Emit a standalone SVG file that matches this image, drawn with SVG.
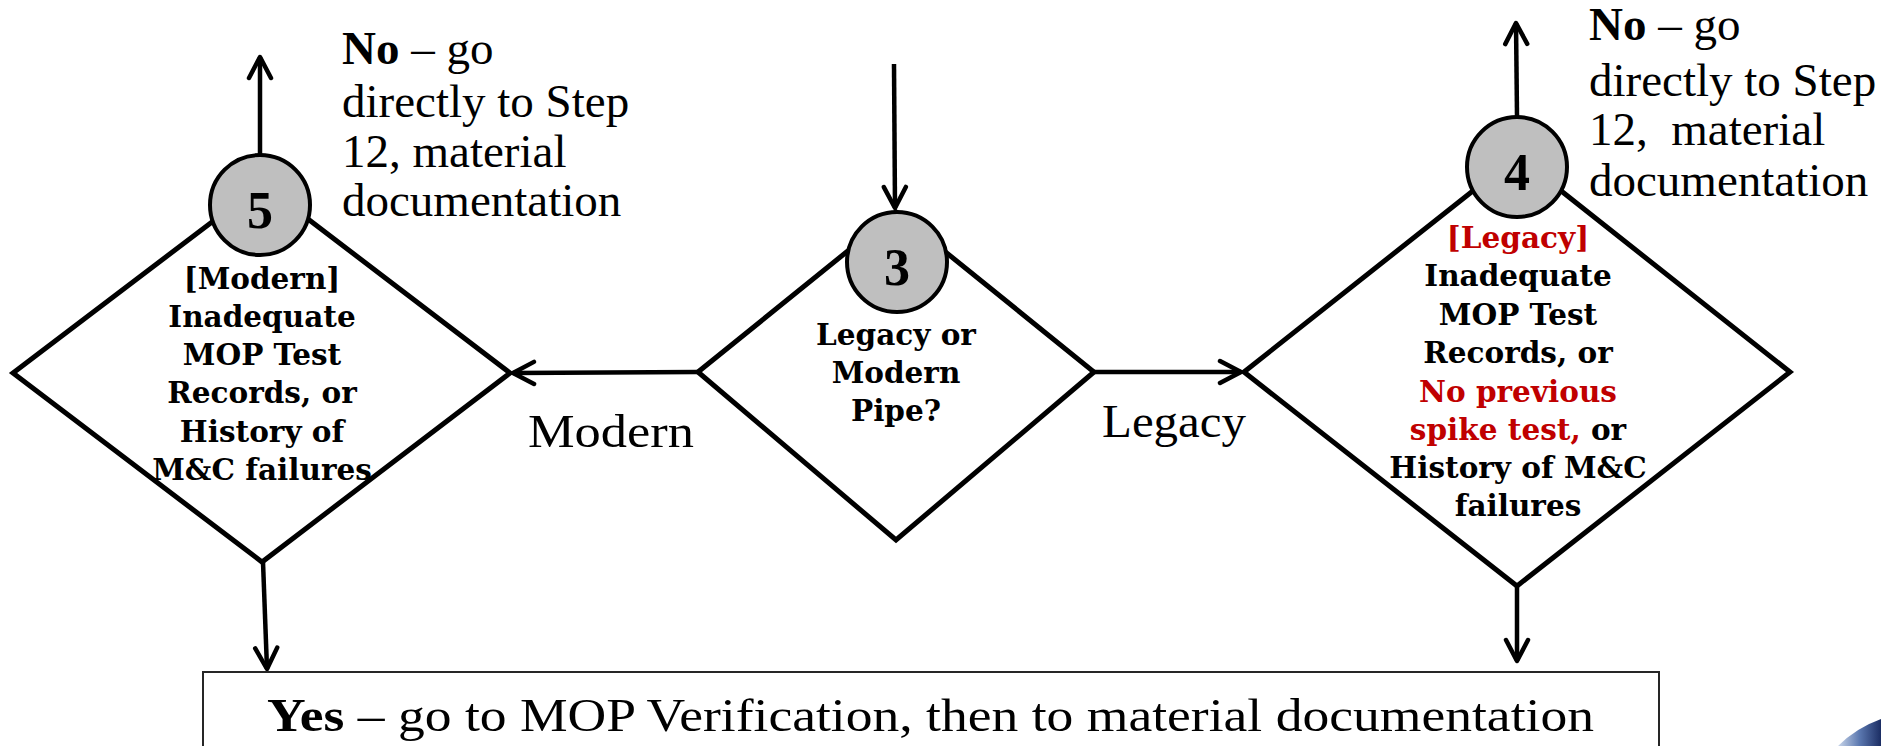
<svg xmlns="http://www.w3.org/2000/svg" width="1881" height="746" viewBox="0 0 1881 746">
  <style>
    .dia { fill: #ffffff; stroke: #000000; stroke-width: 5; stroke-linejoin: miter; }
    .num { fill: #BFBFBF; stroke: #000000; stroke-width: 4; }
    .numtxt { font-family: "Liberation Serif", serif; font-weight: bold; font-size: 52px; fill: #000; text-anchor: middle; }
    .btxt { font-family: "DejaVu Serif", "Liberation Serif", serif; font-weight: bold; font-size: 29.5px; fill: #000; text-anchor: middle; }
    .red { fill: #C00000; }
    .rtxt { font-family: "Liberation Serif", serif; font-size: 47px; fill: #000; }
    .conn { stroke: #000000; stroke-width: 4.5; fill: none; marker-end: url(#arr); }
    .box { fill: #ffffff; stroke: #262626; stroke-width: 2; }
  </style>
  <defs>
    <marker id="arr" markerUnits="userSpaceOnUse" viewBox="-26 -14 29 28" markerWidth="29" markerHeight="28" refX="0" refY="0" orient="auto">
      <path d="M-21,-11 L0,0 L-21,11" fill="none" stroke="#000" stroke-width="4.5" stroke-linecap="round" stroke-linejoin="round"/>
    </marker>
    <linearGradient id="swoosh" x1="0" y1="0" x2="1" y2="0">
      <stop offset="0" stop-color="#c9d6ea"/>
      <stop offset="0.5" stop-color="#5b78b0"/>
      <stop offset="1" stop-color="#1b2d63"/>
    </linearGradient>
  </defs>
  <rect x="0" y="0" width="1881" height="746" fill="#ffffff"/>

  <g id="connectors">
    <path class="conn" d="M894,64 L895,208"/>
    <path class="conn" d="M698,372 L513,373"/>
    <path class="conn" d="M1094,372 L1241,372"/>
    <path class="conn" d="M260,154 L260,57"/>
    <path class="conn" d="M1517,116 L1516,23"/>
    <path class="conn" d="M263,562 L267,669"/>
    <path class="conn" d="M1517,586 L1517,661"/>
  </g>

  <g id="node-5">
    <polygon class="dia" points="13,373 262,184 510,373 262,562"/>
    <circle class="num" cx="260" cy="205" r="50"/>
    <text class="numtxt" x="260" y="228">5</text>
    <text class="btxt" x="262" y="289">[Modern]</text>
    <text class="btxt" x="262" y="327">Inadequate</text>
    <text class="btxt" x="262" y="365">MOP Test</text>
    <text class="btxt" x="262" y="403">Records, or</text>
    <text class="btxt" x="262" y="442">History of</text>
    <text class="btxt" x="262" y="480">M&amp;C failures</text>
  </g>

  <g id="node-3">
    <polygon class="dia" points="698,372 896,212 1094,372 896,540"/>
    <circle class="num" cx="897" cy="262" r="50"/>
    <text class="numtxt" x="897" y="285">3</text>
    <text class="btxt" x="896" y="345">Legacy or</text>
    <text class="btxt" x="896" y="383">Modern</text>
    <text class="btxt" x="896" y="421">Pipe?</text>
  </g>

  <g id="node-4">
    <polygon class="dia" points="1244,372 1517,156 1790,372 1517,586"/>
    <circle class="num" cx="1517" cy="167" r="50"/>
    <text class="numtxt" x="1517" y="190">4</text>
    <text class="btxt red" x="1518" y="248">[Legacy]</text>
    <text class="btxt" x="1518" y="286">Inadequate</text>
    <text class="btxt" x="1518" y="325">MOP Test</text>
    <text class="btxt" x="1518" y="363">Records, or</text>
    <text class="btxt red" x="1518" y="402">No previous</text>
    <text class="btxt" x="1518" y="440"><tspan class="red">spike test,</tspan> or</text>
    <text class="btxt" x="1518" y="478">History of M&amp;C</text>
    <text class="btxt" x="1518" y="516">failures</text>
  </g>

  <g id="label-no-5">
    <text class="rtxt" x="342" y="64"><tspan font-weight="bold">No</tspan> – go</text>
    <text class="rtxt" x="342" y="117">directly to Step</text>
    <text class="rtxt" x="342" y="167">12, material</text>
    <text class="rtxt" x="342" y="216">documentation</text>
  </g>

  <g id="label-no-4">
    <text class="rtxt" x="1589" y="40"><tspan font-weight="bold">No</tspan> – go</text>
    <text class="rtxt" x="1589" y="96">directly to Step</text>
    <text class="rtxt" x="1589" y="145" style="white-space:pre">12,  material</text>
    <text class="rtxt" x="1589" y="196">documentation</text>
  </g>

  <g id="label-modern">
    <text class="rtxt" x="528" y="447" font-size="50" textLength="166" lengthAdjust="spacingAndGlyphs">Modern</text>
  </g>
  <g id="label-legacy">
    <text class="rtxt" x="1102" y="437" font-size="50" textLength="144" lengthAdjust="spacingAndGlyphs">Legacy</text>
  </g>

  <g id="node-yes">
    <rect class="box" x="203" y="672" width="1456" height="90"/>
    <text class="rtxt" x="267" y="731" font-size="58" textLength="1327" lengthAdjust="spacingAndGlyphs"><tspan font-weight="bold">Yes</tspan> – go to MOP Verification, then to material documentation</text>
  </g>

  <path d="M1838,746 Q1856,728 1881,719 L1881,746 Z" fill="url(#swoosh)"/>
</svg>
